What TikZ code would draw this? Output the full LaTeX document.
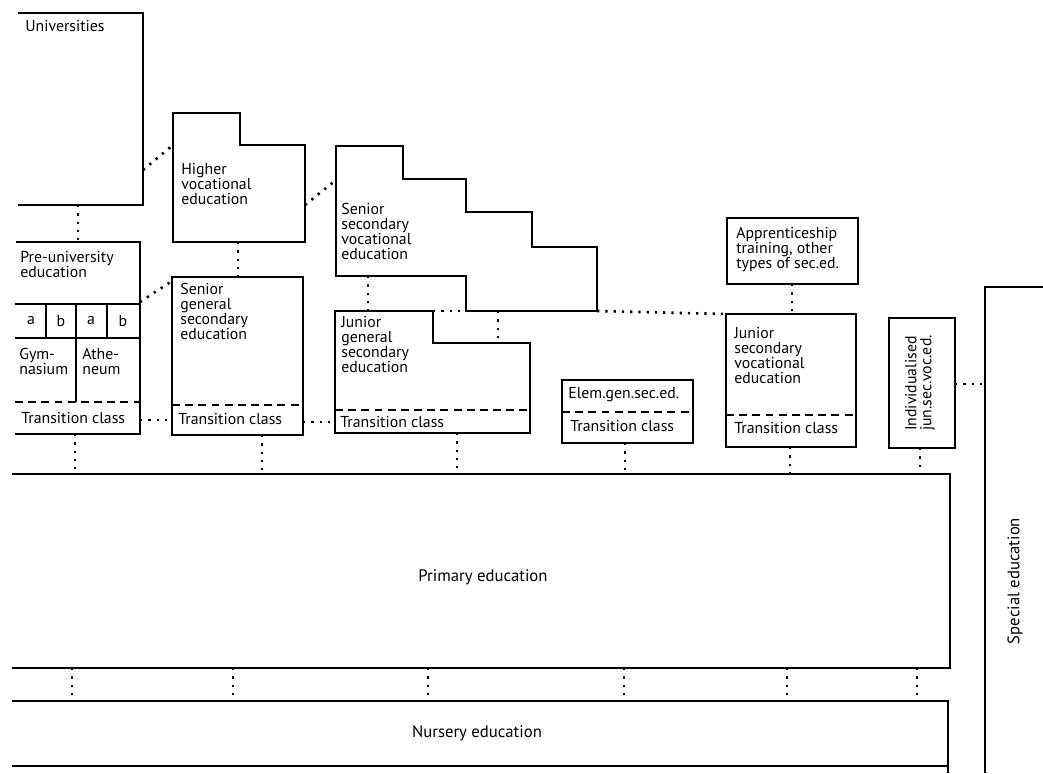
\documentclass[tikz,border=0pt]{standalone}
\usepackage{fontspec}
\setmainfont{PT Sans}
\usetikzlibrary{positioning,calc}
\tikzstyle{wall}=[draw,line width=0.8pt,line join=miter]
\tikzstyle{link}=[draw,line width=1.5pt,dash pattern=on 1.3pt off 3.4pt]
\tikzstyle{split}=[draw,line width=0.9pt,dash pattern=on 4.5pt off 3pt]
\tikzstyle{lbl}=[anchor=north west,align=left,inner sep=0pt,font=\fontsize{9}{8.6}\selectfont]
\tikzstyle{cell}=[inner sep=0pt,font=\fontsize{9}{9}\selectfont]
\tikzstyle{big}=[inner sep=0pt,font=\fontsize{9.5}{10}\selectfont]

\begin{document}
\begin{tikzpicture}[x=0.02cm,y=-0.02cm]
    \useasboundingbox (0,0) rectangle (1043,773);

    % universities and pre-university
    \path[wall] (18,13) -- (143,13) -- (143,205) -- (18,205);
    \path[wall] (16,242) -- (140,242) -- (140,434) -- (15,434);
    \path[wall] (15,304) -- (140,304) (15,338) -- (140,338);
    \foreach \x in {46,76,107}
        \path[wall] (\x,304) -- (\x,338);
    \path[wall] (76,338) -- (76,402);
    \path[split] (15,402) -- (140,402);

    % higher vocational, senior general secondary
    \path[wall] (173,113) -- (240,113) -- (240,145) -- (305,145) -- (305,242) -- (173,242) -- cycle;
    \path[wall] (172,277) rectangle (303,435);
    \path[split] (172,405) -- (303,405);

    % senior secondary vocational, junior general secondary
    \path[wall] (336,146) -- (403,146) -- (403,179) -- (466,179) -- (466,212) -- (532,212) -- (532,247)
        -- (597,247) -- (597,311) -- (466,311) -- (466,276) -- (336,276) -- cycle;
    \path[wall] (335,311) -- (433,311) -- (433,343) -- (530,343) -- (530,433) -- (335,433) -- cycle;
    \path[split] (335,410) -- (530,410);

    % elementary, apprenticeship, junior secondary vocational, individualised
    \path[wall] (562,380) rectangle (693,443);
    \path[split] (562,412) -- (693,412);
    \path[wall] (727,218) rectangle (858,284);
    \path[wall] (726,314) rectangle (856,447);
    \path[split] (726,415) -- (856,415);
    \path[wall] (889,318) rectangle (955,448);

    % primary, nursery, special
    \path[wall] (12,474) -- (950,474) -- (950,668) -- (12,668);
    \path[wall] (12,701) -- (948,701) -- (948,773);
    \path[wall] (12,766) -- (948,766);
    \path[wall] (985,773) -- (985,287) -- (1043,287);

    % texts
    \node[lbl] (univ) at (25,20) {Universities};
    \node[lbl] (preu) at (20,251) {Pre-university\\education};
    \foreach \n/\x/\c in {1/31/a, 2/61/b, 3/91/a, 4/123/b}
        \node[cell] (ab\n) at (\x,321) {\c};
    \node[lbl] (gym) at (19,348) {Gym-\\nasium};
    \node[lbl] (ath) at (82,348) {Athe-\\neum};
    \node[lbl] (preutc) at (21,412) {Transition class};
    \node[lbl] (hv) at (181,163) {Higher\\vocational\\education};
    \node[lbl] (sg) at (180,283) {Senior\\general\\secondary\\education};
    \node[lbl] (sgtc) at (178,413) {Transition class};
    \node[lbl] (sv) at (341,203) {Senior\\secondary\\vocational\\education};
    \node[lbl] (jg) at (341,316) {Junior\\general\\secondary\\education};
    \node[lbl] (jgtc) at (340,416) {Transition class};
    \node[lbl] (el) at (568,387) {Elem.gen.sec.ed.};
    \node[lbl] (eltc) at (570,420) {Transition class};
    \node[lbl] (ap) at (736,227) {Apprenticeship\\training, other\\types of sec.ed.};
    \node[lbl] (jv) at (734,327) {Junior\\secondary\\vocational\\education};
    \node[lbl] (jvtc) at (734,422) {Transition class};
    \node[cell, rotate=90, align=left, font=\fontsize{9}{8.6}\selectfont] (ind) at (920,383) {Individualised\\jun.sec.voc.ed.};
    \node[big, rotate=90] (spec) at (1015,581) {Special education};
    \node[big] (prim) at (483,577) {Primary education};
    \node[big] (nurs) at (477,733) {Nursery education};

    % dotted links
    \foreach \a/\ax/\ay/\b/\bx/\by in {u1/78/205/p1/78/242, u2/143/170/h1/173/145, p2/140/302/s1/172/281,
        h2/238/242/s2/238/277, h3/305/205/v1/336/180, p3/140/420/s3/172/420, s4/303/422/j1/335/422,
        v2/368/276/j2/368/311, j3/433/311/v3/466/311, v4/498/311/j4/498/343, v5/597/311/k1/726/314,
        a1/792/284/k2/792/314, i1/955/384/e1/985/384}
    {
        \coordinate (\a) at (\ax,\ay);
        \coordinate (\b) at (\bx,\by);
        \path[link] (\a) -- (\b);
    }
    \foreach \i/\x/\y in {1/75/434, 2/262/435, 3/457/433, 4/625/443, 5/790/447, 6/920/448}
    {
        \coordinate (T\i) at (\x,\y);
        \coordinate (P\i) at (\x,474);
        \path[link] (T\i) -- (P\i);
    }
    \foreach \i/\x in {1/72, 2/233, 3/428, 4/624, 5/787, 6/917}
    {
        \coordinate (Q\i) at (\x,668);
        \coordinate (N\i) at (\x,701);
        \path[link] (Q\i) -- (N\i);
    }

\end{tikzpicture}
\end{document}
